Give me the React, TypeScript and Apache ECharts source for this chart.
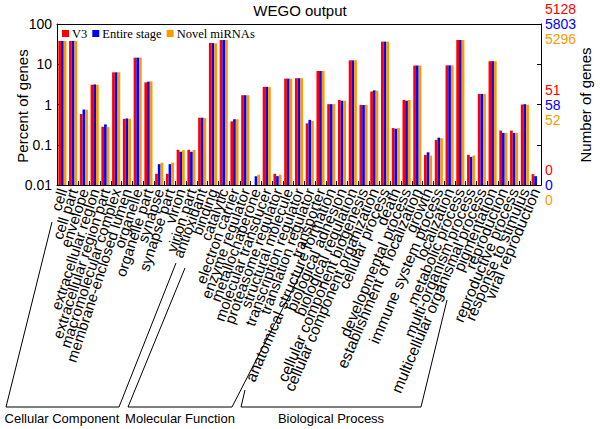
import React, { useEffect, useRef } from 'react';
import * as echarts from 'echarts';

const categories = [
  'cell', 'cell part', 'envelope', 'extracellular region', 'extracellular region part',
  'macromolecular complex', 'membrane-enclosed lumen', 'organelle', 'organelle part',
  'synapse', 'synapse part', 'virion', 'virion part',
  'antioxidant', 'binding', 'catalytic', 'electron carrier', 'enzyme regulator',
  'metallochaperone', 'molecular transducer', 'proteasome regulator', 'structural molecule',
  'transcription regulator', 'translation regulator', 'transporter',
  'anatomical structure formation', 'biological adhesion', 'biological regulation',
  'cellular component biogenesis', 'cellular component organization', 'cellular process',
  'death', 'developmental process', 'establishment of localization', 'growth',
  'immune system process', 'localization', 'metabolic process', 'multi-organism process',
  'multicellular organismal process', 'pigmentation', 'reproduction', 'reproductive process',
  'response to stimulus', 'viral reproduction',
];

// number of categories in each GO group (Cellular Component, Molecular Function, Biological Process)
const groupSizes = [13, 12, 20];
const groupNames = ['Cellular Component', 'Molecular Function', 'Biological Process'];

const seriesNames = ['V3', 'Entire stage', 'Novel miRNAs'];

const v3Values = [
  38, 38, 0.58, 3.1, 0.28, 6.3, 0.44, 14.6, 3.55, 0.019, 0.019, 0.075, 0.075,
  0.47, 34, 40, 0.38, 1.7, null, 2.75, 0.019, 4.4, 4.5, 0.34, 6.8,
  1.02, 1.3, 12.5, 0.98, 2.1, 36.5, 0.26, 1.3, 9.3, 0.056, 0.132, 9.4, 40, 0.056, 1.83,
  11.9, 0.225, 0.225, 1.0, 0.0186,
];
const entireValues = [
  38, 38, 0.75, 3.15, 0.32, 6.3, 0.45, 14.6, 3.7, 0.033, 0.033, 0.067, 0.067,
  0.47, 33.5, 40, 0.43, 1.7, 0.0166, 2.75, 0.0166, 4.4, 4.5, 0.415, 6.8,
  1.02, 1.24, 12.5, 0.97, 2.24, 36.5, 0.25, 1.24, 9.3, 0.065, 0.15, 9.4, 40, 0.05, 1.83,
  11.9, 0.197, 0.197, 1.02, 0.0166,
];
const novelValues = [
  38, 38, 0.74, 3.1, 0.275, 6.3, 0.44, 14.6, 3.75, 0.036, 0.036, 0.073, 0.074,
  0.46, 33, 40, 0.43, 1.7, 0.018, 2.7, 0.018, 4.4, 4.5, 0.39, 6.8,
  1.02, 1.24, 12.5, 0.98, 2.2, 36.5, 0.26, 1.3, 9.3, 0.054, 0.145, 9.4, 40, 0.054, 1.83,
  11.9, 0.197, 0.197, 0.98, null,
];

const leftTickLabels = ['0.01', '0.1', '1', '10', '100'];
const rightTop = ['5128', '5803', '5296'];
const rightMid = ['51', '58', '52'];
const rightBottom = ['0', '0', '0'];

const colors = ['#FF0000', '#0000FF', '#FF9900'];
const SANS = 'Liberation Sans, Arial, sans-serif';
const SERIF = 'Liberation Serif, Times New Roman, serif';

// label styling per group
const groupRotate = [72, 70, 67];
const groupFont = [15, 15, 15.5];

function expOf(v: number) {
  return Math.round(Math.log10(v));
}

export default function App() {
  const ref = useRef<HTMLDivElement>(null);
  useEffect(() => {
    const chart = echarts.init(ref.current!, null, { renderer: 'svg' });
    const dataSets = [v3Values, entireValues, novelValues];
    const rich = {
      r: { color: colors[0], fontSize: 14, lineHeight: 15, fontFamily: SANS },
      b: { color: colors[1], fontSize: 14, lineHeight: 15, fontFamily: SANS },
      o: { color: colors[2], fontSize: 14, lineHeight: 15, fontFamily: SANS },
    };
    const rightFmt = (arr: string[]) => `{r|${arr[0]}}\n{b|${arr[1]}}\n{o|${arr[2]}}`;
    const line = (pts: number[][]) => ({
      type: 'polyline',
      shape: { points: pts },
      style: { stroke: '#000', lineWidth: 1, fill: null },
    });
    const groupOf: number[] = [];
    groupSizes.forEach((n, g) => {
      for (let k = 0; k < n; k++) groupOf.push(g);
    });

    const labelAxes = groupSizes.map((_, g) => ({
      type: 'category',
      data: categories,
      position: 'bottom',
      axisLine: { show: g === 0, lineStyle: { color: '#000', width: 1 } },
      axisTick: { show: g === 0, inside: true, length: 4, lineStyle: { color: '#000' } },
      axisLabel: {
        interval: 0,
        rotate: groupRotate[g],
        margin: 4,
        fontSize: groupFont[g],
        fontFamily: SANS,
        color: '#000',
        formatter: (val: string, idx: number) => (groupOf[idx] === g ? val : ''),
      },
    }));

    const option: any = {
      animation: false,
      backgroundColor: '#fff',
      title: {
        text: 'WEGO output',
        left: 'center',
        top: 3,
        padding: 0,
        textStyle: { fontSize: 15, fontWeight: 'normal', fontFamily: SANS, color: '#000' },
      },
      legend: {
        left: 62,
        top: 27,
        padding: 0,
        itemWidth: 7,
        itemHeight: 7,
        itemGap: 5,
        icon: 'rect',
        data: seriesNames,
        textStyle: { fontSize: 12.5, fontFamily: SERIF, color: '#000', padding: [0, 0, 0, -2] },
      },
      grid: { left: 57, right: 59, top: 24, bottom: 244, containLabel: false },
      xAxis: [
        ...labelAxes,
        {
          type: 'category',
          data: categories,
          position: 'top',
          axisLine: { lineStyle: { color: '#000', width: 1 } },
          axisTick: { inside: true, length: 4, lineStyle: { color: '#000' } },
          axisLabel: { show: false },
        },
      ],
      yAxis: [
        {
          type: 'log',
          logBase: 10,
          min: 0.01,
          max: 100,
          startValue: 0.01,
          position: 'left',
          axisLine: { show: true, lineStyle: { color: '#000' } },
          axisTick: { show: true, inside: true, length: 4, lineStyle: { color: '#000' } },
          splitLine: { show: false },
          axisLabel: {
            margin: 5,
            fontSize: 14,
            fontFamily: SANS,
            color: '#000',
            formatter: (v: number) => leftTickLabels[expOf(v) + 2] ?? '',
          },
        },
        {
          type: 'log',
          logBase: 10,
          min: 0.01,
          max: 100,
          startValue: 0.01,
          position: 'right',
          axisLine: { show: true, lineStyle: { color: '#000' } },
          axisTick: { show: true, inside: true, length: 4, lineStyle: { color: '#000' } },
          splitLine: { show: false },
          axisLabel: {
            margin: 4,
            rich,
            formatter: (v: number) => {
              const e = expOf(v);
              if (e === 2) return rightFmt(rightTop);
              if (e === 0) return rightFmt(rightMid);
              if (e === -2) return rightFmt(rightBottom);
              return '';
            },
          },
        },
      ],
      series: seriesNames.map((name, i) => ({
        name,
        type: 'bar',
        xAxisIndex: 0,
        yAxisIndex: 0,
        data: dataSets[i],
        barWidth: 2.7,
        barGap: '0%',
        itemStyle: { color: colors[i] },
      })),
      graphic: [
        {
          type: 'text',
          x: 22,
          y: 106,
          rotation: Math.PI / 2,
          style: {
            text: 'Percent of genes',
            fontSize: 15,
            fontFamily: SANS,
            fill: '#000',
            textAlign: 'center',
            textVerticalAlign: 'middle',
          },
        },
        {
          type: 'text',
          x: 585,
          y: 105,
          rotation: Math.PI / 2,
          style: {
            text: 'Number of genes',
            fontSize: 15,
            fontFamily: SANS,
            fill: '#000',
            textAlign: 'center',
            textVerticalAlign: 'middle',
          },
        },
        line([[52, 222], [6, 407], [119, 407], [176, 263]]),
        line([[185, 268], [128, 407], [232, 407], [304, 267]]),
        line([[245, 390], [241, 407], [421, 407], [447, 300]]),
        {
          type: 'text', x: 62, y: 418,
          style: { text: groupNames[0], fontSize: 13, fontFamily: SANS, fill: '#000', textAlign: 'center', textVerticalAlign: 'middle' },
        },
        {
          type: 'text', x: 180, y: 418,
          style: { text: groupNames[1], fontSize: 13, fontFamily: SANS, fill: '#000', textAlign: 'center', textVerticalAlign: 'middle' },
        },
        {
          type: 'text', x: 331, y: 418,
          style: { text: groupNames[2], fontSize: 13, fontFamily: SANS, fill: '#000', textAlign: 'center', textVerticalAlign: 'middle' },
        },
      ],
    };
    chart.setOption(option);
    return () => chart.dispose();
  }, []);
  return (
    <div
      ref={ref}
      style={{ position: 'absolute', left: 0, top: 0, width: 600, height: 429 }}
    />
  );
}
